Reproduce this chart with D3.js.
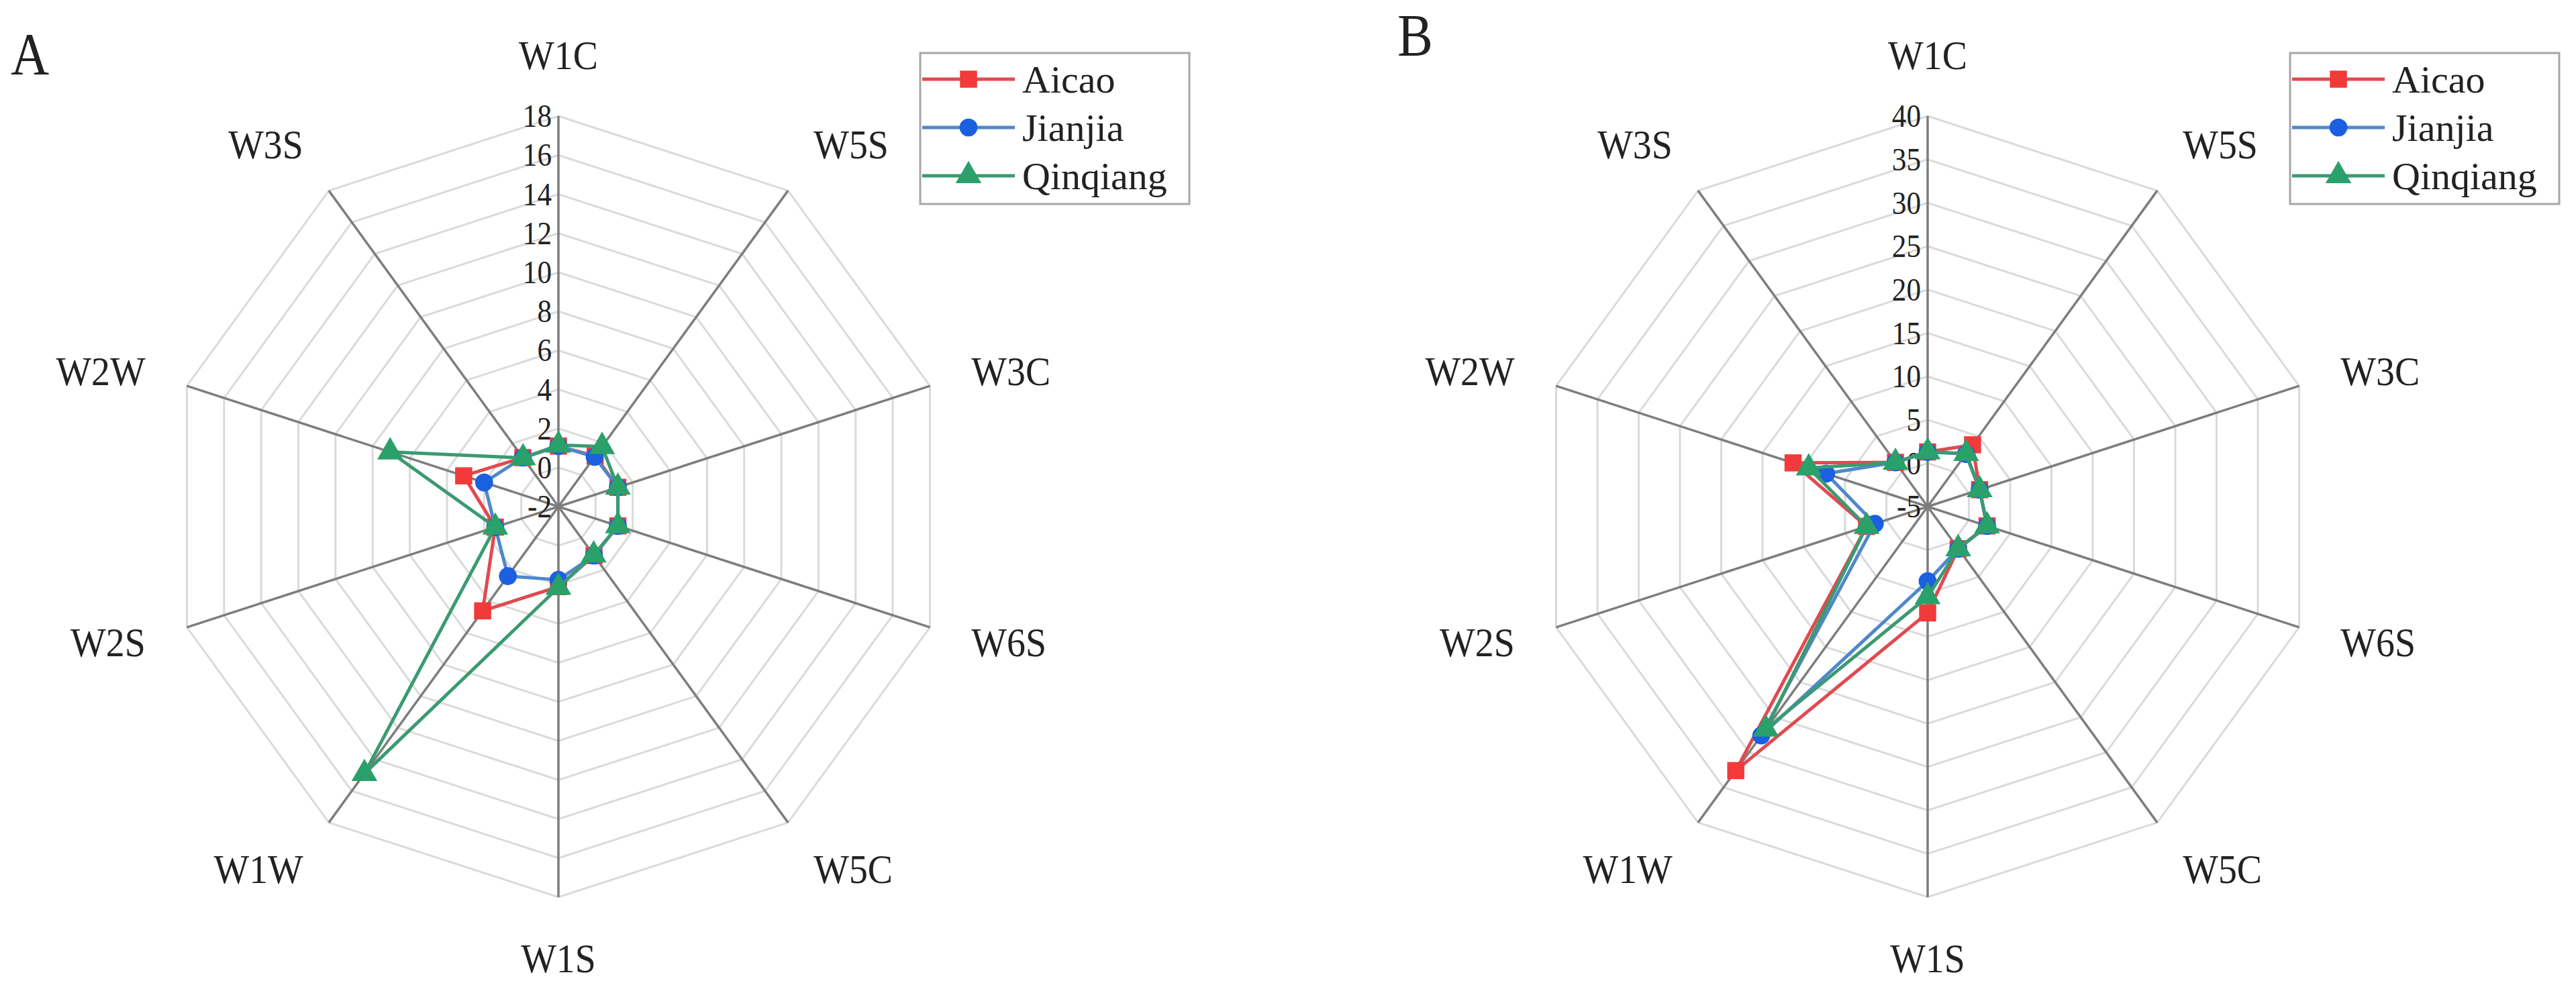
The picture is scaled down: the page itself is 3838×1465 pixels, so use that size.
<!DOCTYPE html>
<html>
<head>
<meta charset="utf-8">
<script src="https://cdn.jsdelivr.net/npm/d3@7"></script>
<style>
  body { margin: 0; background: #fff; }
  svg { display: block; }
  text { font-family: "Liberation Serif", "Times New Roman", serif; fill: #222; }
</style>
</head>
<body>
<div id="chart"></div>
<script>
// axis order, clockwise from the top
const axes = ["W1C", "W5S", "W3C", "W6S", "W5C", "W1S", "W1W", "W2S", "W2W", "W3S"];
const seriesNames = ["Aicao", "Jianjia", "Qinqiang"];

// panel A
const ticksA = [-2, 0, 2, 4, 6, 8, 10, 12, 14, 16, 18];
const aicaoA    = [1.1, 1.2, 1.2, 1.2, 1.1, 2.1, 4.6, 1.4, 3.1, 1.1];
const jianjiaA  = [1.1, 1.15, 1.2, 1.2, 1.1, 1.75, 2.4, 1.4, 2.0, 1.1];
const qinqiangA = [1.15, 1.8, 1.2, 1.2, 1.07, 2.14, 14.9, 1.4, 7.06, 1.08];

// panel B
const ticksB = [-5, 0, 5, 10, 15, 20, 25, 30, 35, 40];
const aicaoB    = [1.3, 3.8, 1.3, 2.2, 1.0, 7.25, 32.6, 2.4, 11.3, 1.3];
const jianjiaB  = [1.3, 2.5, 1.3, 2.2, 1.0, 3.6, 27.6, 1.4, 7.3, 1.3];
const qinqiangB = [1.3, 2.56, 1.3, 2.2, 1.0, 5.4, 26.7, 2.4, 9.4, 1.3];

const W = 3838, H = 1465;
const R = 582;
const lineColors = ["#e04a4f", "#4f88c9", "#3b9a72"];
const markColors = ["#f23a3a", "#1a60e0", "#2aa06a"];
const markShapes = [d3.symbolSquare, d3.symbolCircle, d3.symbolTriangle];
const markSizes = [650, 560, 640];

const svg = d3.select("#chart").append("svg")
  .attr("width", W).attr("height", H);

function drawRadar(cx, cy, ticks, series, letter, letterPos, legendX) {
  let g = svg.append("g").attr("transform", "translate(" + cx + "," + cy + ")");
  let r = d3.scaleLinear().domain([ticks[0], ticks[ticks.length - 1]]).range([0, R]);
  let ang = d3.scaleLinear().domain([0, axes.length]).range([0, 2 * Math.PI]);

  let pt = (i, v) => [r(v) * Math.sin(ang(i)), -r(v) * Math.cos(ang(i))];

  // grid rings
  let ring = d3.line().curve(d3.curveLinearClosed);
  g.selectAll(".ring")
    .data(ticks.slice(1))
    .enter().append("path")
    .attr("class", "ring")
    .attr("d", t => ring(axes.map((a, i) => pt(i, t))))
    .attr("fill", "none")
    .attr("stroke", "#dadada")
    .attr("stroke-width", 3);

  // spokes
  g.selectAll(".spoke")
    .data(axes)
    .enter().append("line")
    .attr("x1", 0).attr("y1", 0)
    .attr("x2", (d, i) => pt(i, ticks[ticks.length - 1])[0])
    .attr("y2", (d, i) => pt(i, ticks[ticks.length - 1])[1])
    .attr("stroke", "#7d7d7d")
    .attr("stroke-width", 3.5);

  // tick labels on the top axis
  g.selectAll(".tick")
    .data(ticks)
    .enter().append("text")
    .attr("transform", t => "translate(-10," + (-r(t)) + ") scale(0.9,1)")
    .attr("text-anchor", "end")
    .attr("dominant-baseline", "central")
    .attr("font-size", 48)
    .text(t => t);

  // axis labels
  g.selectAll(".axlab")
    .data(axes)
    .enter().append("text")
    .attr("transform", (d, i) => {
      let a = ang(i);
      let p = pt(i, ticks[ticks.length - 1]);
      let x = p[0] + 65 * Math.sin(a);
      let y = p[1] - 65 * Math.cos(a) - 26 * Math.cos(a) * Math.abs(Math.cos(a));
      return "translate(" + x + "," + y + ") scale(0.9,1)";
    })
    .attr("text-anchor", (d, i) => {
      let s = Math.sin(ang(i));
      return Math.abs(s) < 0.1 ? "middle" : (s > 0 ? "start" : "end");
    })
    .attr("dominant-baseline", "central")
    .attr("font-size", 62)
    .text(d => d);

  // series
  let line = d3.line().curve(d3.curveLinearClosed);
  series.forEach((vals, k) => {
    g.append("path")
      .attr("d", line(vals.map((v, i) => pt(i, v))))
      .attr("fill", "none")
      .attr("stroke", lineColors[k])
      .attr("stroke-width", 5)
      .attr("stroke-linejoin", "round");
    g.selectAll(".mk" + k)
      .data(vals)
      .enter().append("path")
      .attr("transform", (v, i) => "translate(" + pt(i, v) + ")")
      .attr("d", d3.symbol().type(markShapes[k]).size(markSizes[k]))
      .attr("fill", markColors[k]);
  });

  // panel letter
  svg.append("text")
    .attr("transform", "translate(" + letterPos[0] + "," + letterPos[1] + ") scale(0.9,1)")
    .attr("font-size", 88)
    .text(letter);

  // legend
  let lg = svg.append("g").attr("transform", "translate(" + legendX + ",79)");
  lg.append("rect")
    .attr("width", 401).attr("height", 225)
    .attr("fill", "#fff")
    .attr("stroke", "#a6a6a6")
    .attr("stroke-width", 3);
  let rows = d3.scaleLinear().domain([0, 2]).range([39, 183]);
  seriesNames.forEach((name, k) => {
    lg.append("line")
      .attr("x1", 3).attr("x2", 141)
      .attr("y1", rows(k)).attr("y2", rows(k))
      .attr("stroke", lineColors[k])
      .attr("stroke-width", 5);
    lg.append("path")
      .attr("transform", "translate(72," + rows(k) + ")")
      .attr("d", d3.symbol().type(markShapes[k]).size(markSizes[k]))
      .attr("fill", markColors[k]);
    lg.append("text")
      .attr("x", 152).attr("y", rows(k))
      .attr("dominant-baseline", "central")
      .attr("font-size", 58)
      .text(name);
  });
}

drawRadar(832, 755, ticksA, [aicaoA, jianjiaA, qinqiangA], "A", [16, 110], 1371);
drawRadar(2872, 755, ticksB, [aicaoB, jianjiaB, qinqiangB], "B", [2082, 82], 3412);
</script>
</body>
</html>
